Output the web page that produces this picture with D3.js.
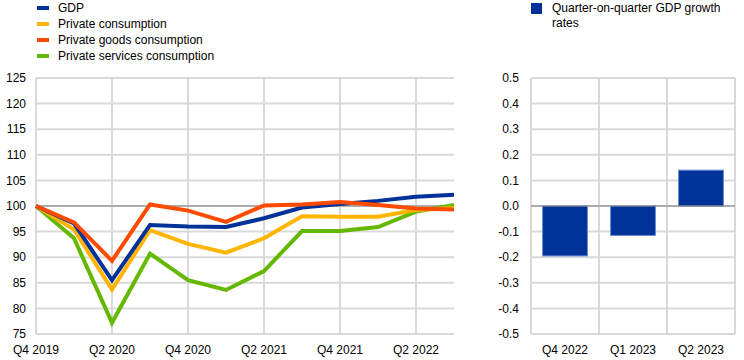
<!DOCTYPE html>
<html><head><meta charset="utf-8">
<script src="https://cdn.jsdelivr.net/npm/d3@7"></script>
<style>body{margin:0;background:#fff}svg{display:block;font-family:"Liberation Sans",Arial,sans-serif}</style>
</head><body><svg id="c" width="744" height="360"></svg>
<script>
const quarters = ["Q4 2019","Q1 2020","Q2 2020","Q3 2020","Q4 2020","Q1 2021","Q2 2021","Q3 2021","Q4 2021","Q1 2022","Q2 2022","Q3 2022"];
const xTickLabels = ["Q4 2019","Q2 2020","Q4 2020","Q2 2021","Q4 2021","Q2 2022"];
const gdp = [100,96.6,85.5,96.3,96.0,95.9,97.6,99.7,100.4,101.0,101.8,102.2];
const privCons = [100,95.4,83.7,95.3,92.6,90.9,93.7,98.0,97.9,97.9,99.2,99.6];
const goodsCons = [100,96.8,89.3,100.3,99.1,96.9,100.1,100.3,100.8,100.2,99.5,99.3];
const servCons = [100,93.7,77.2,90.7,85.5,83.6,87.3,95.1,95.1,95.9,98.9,100.2];
const seriesNames = ["GDP","Private consumption","Private goods consumption","Private services consumption"];
const seriesColors = ["#003299","#ffb400","#ff4b00","#65b800"];
const leftTicks = [75,80,85,90,95,100,105,110,115,120,125];

const barCats = ["Q4 2022","Q1 2023","Q2 2023"];
const barVals = [-0.195,-0.115,0.14];
const barName = "Quarter-on-quarter GDP growth rates";
const rightTicks = [-0.5,-0.4,-0.3,-0.2,-0.1,0,0.1,0.2,0.3,0.4,0.5];

const svg = d3.select("#c");
const grid = "#d9d9d9", fs = 12;

// ---- left chart ----
const L = {l:36, r:454, t:78, b:334};
const x = d3.scalePoint().domain(quarters).range([L.l, L.r]);
const y = d3.scaleLinear().domain([75,125]).range([L.b, L.t]);
const gl = svg.append("g");
gl.selectAll(".hg").data(leftTicks).join("line")
  .attr("x1",L.l).attr("x2",L.r).attr("y1",d=>y(d)).attr("y2",d=>y(d))
  .attr("stroke",grid).attr("stroke-width",2);
gl.selectAll(".vg").data(xTickLabels).join("line")
  .attr("x1",d=>x(d)).attr("x2",d=>x(d)).attr("y1",L.t).attr("y2",L.b)
  .attr("stroke",grid).attr("stroke-width",2);
gl.append("line").attr("x1",L.l).attr("x2",L.r).attr("y1",y(100)).attr("y2",y(100))
  .attr("stroke","#808080").attr("stroke-width",1);
gl.selectAll(".yl").data(leftTicks).join("text")
  .attr("x",26).attr("y",d=>y(d)).attr("dy","0.35em").attr("text-anchor","end")
  .attr("font-size",fs).attr("fill","#000").text(d=>d);
gl.selectAll(".xl").data(xTickLabels).join("text")
  .attr("x",d=>x(d)).attr("y",350).attr("dy","0.35em").attr("text-anchor","middle")
  .attr("font-size",fs).attr("fill","#000").text(d=>d);
const line = d3.line().x((d,i)=>x(quarters[i])).y(d=>y(d));
const allSeries = [gdp, privCons, goodsCons, servCons];
const drawOrder = [3,1,0,2];
drawOrder.forEach(k=>{
  gl.append("path").attr("d",line(allSeries[k])).attr("fill","none")
    .attr("stroke",seriesColors[k]).attr("stroke-width",4).attr("stroke-linejoin","miter");
});
// legend left
seriesNames.forEach((n,i)=>{
  const cy = 8 + i*16;
  gl.append("rect").attr("x",37).attr("y",cy-2).attr("width",12).attr("height",4).attr("fill",seriesColors[i]);
  gl.append("text").attr("x",58).attr("y",cy).attr("dy","0.35em").attr("font-size",fs).attr("fill","#000").text(n);
});

// ---- right chart ----
const R = {l:531, r:735, t:78, b:334};
const xb = d3.scaleBand().domain(barCats).range([R.l, R.r]).paddingInner(0.34).paddingOuter(0.17);
const xbEdge = d3.scaleBand().domain(barCats).range([R.l, R.r]);
const yb = d3.scaleLinear().domain([-0.5,0.5]).range([R.b, R.t]);
const gr = svg.append("g");
gr.selectAll(".hg").data(rightTicks).join("line")
  .attr("x1",R.l).attr("x2",R.r).attr("y1",d=>yb(d)).attr("y2",d=>yb(d))
  .attr("stroke",grid).attr("stroke-width",2);
const edges = barCats.map(c=>xbEdge(c)).concat([R.r]);
gr.selectAll(".vg").data(edges).join("line")
  .attr("x1",d=>d).attr("x2",d=>d).attr("y1",R.t).attr("y2",R.b)
  .attr("stroke",grid).attr("stroke-width",2);
gr.selectAll(".bar").data(barVals).join("rect")
  .attr("x",(d,i)=>xb(barCats[i])).attr("width",xb.bandwidth())
  .attr("y",d=>yb(Math.max(0,d))).attr("height",d=>Math.abs(yb(d)-yb(0)))
  .attr("fill","#003299").attr("stroke","#6a8ad6").attr("stroke-width",1);
gr.append("line").attr("x1",R.l).attr("x2",R.r).attr("y1",yb(0)).attr("y2",yb(0))
  .attr("stroke","#808080").attr("stroke-width",1);
gr.selectAll(".yl").data(rightTicks).join("text")
  .attr("x",519).attr("y",d=>yb(d)).attr("dy","0.35em").attr("text-anchor","end")
  .attr("font-size",fs).attr("fill","#000").text(d=>d3.format(".1f")(d).replace("−","-"));
gr.selectAll(".xl").data(barCats).join("text")
  .attr("x",d=>xbEdge(d)+xbEdge.bandwidth()/2).attr("y",350).attr("dy","0.35em").attr("text-anchor","middle")
  .attr("font-size",fs).attr("fill","#000").text(d=>d);
gr.append("rect").attr("x",531).attr("y",3).attr("width",11).attr("height",11).attr("fill","#003299");
const lt = gr.append("text").attr("x",552).attr("font-size",fs).attr("fill","#000");
lt.append("tspan").attr("x",552).attr("y",8).attr("dy","0.35em").text("Quarter-on-quarter GDP growth");
lt.append("tspan").attr("x",552).attr("y",23).attr("dy","0.35em").text("rates");
</script></body></html>
